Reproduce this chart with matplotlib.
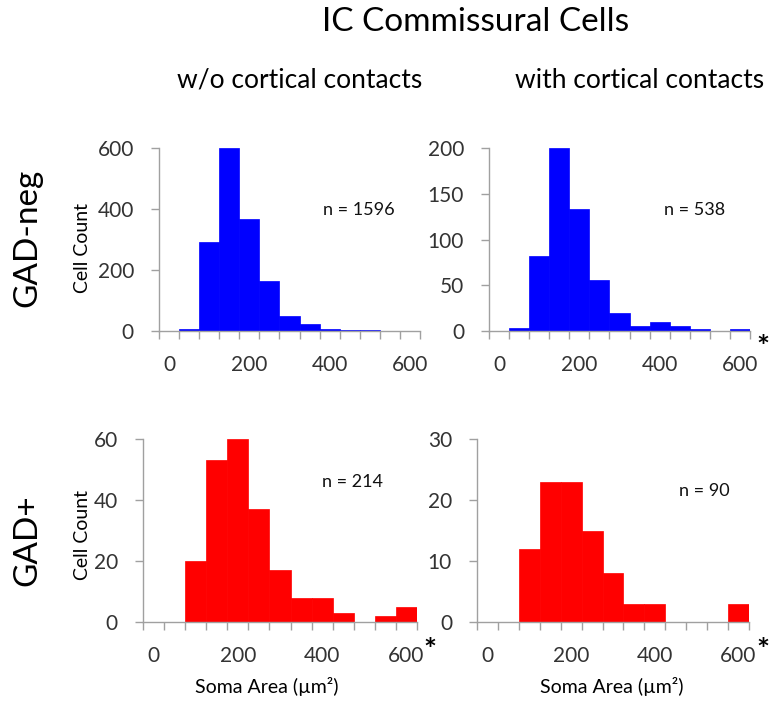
import numpy as np
import matplotlib
matplotlib.use("Agg")
import matplotlib.pyplot as plt

plt.rcParams['font.family'] = ['Lato', 'DejaVu Sans']

# bin labels (soma area, um^2), bins of 50
bins = [0, 50, 100, 150, 200, 250, 300, 350, 400, 450, 500, 550, 600]

# cell counts per bin
neg_wo = [0, 6, 291, 600, 367, 164, 49, 24, 5, 3, 3, 0, 0]
neg_with = [0, 3, 82, 200, 133, 56, 20, 6, 10, 6, 2, 0, 2]
pos_wo = [0, 0, 20, 53, 60, 37, 17, 8, 8, 3, 0, 2, 5]
pos_with = [0, 0, 12, 23, 23, 15, 8, 3, 3, 0, 0, 0, 3]

n_labels = ["n = 1596", "n = 538", "n = 214", "n = 90"]
y_max = [600, 200, 60, 30]
y_step = [200, 50, 20, 10]

W, H = 770, 705
fig = plt.figure(figsize=(W / 100, H / 100), dpi=100)


def px(x0, y0, x1, y1):
    # pixel box (left, top, right, bottom) -> figure fraction
    return [x0 / W, 1 - y1 / H, (x1 - x0) / W, (y1 - y0) / H]


boxes = [(159, 148, 420, 331), (489, 148, 750, 331),
         (143, 439, 417, 622), (477, 439, 749, 622)]
series = [neg_wo, neg_with, pos_wo, pos_with]
colors = ["#0000ff", "#0000ff", "#ff0000", "#ff0000"]
n_pos = [(359, 210), (695, 210), (353, 482), (704, 491)]

axcol = "#a0a0a0"
for i in range(4):
    ax = fig.add_axes(px(*boxes[i]))
    x = np.arange(len(bins))
    ax.bar(x, series[i], width=1.0, color=colors[i], edgecolor=colors[i], linewidth=0.5)
    ax.set_xlim(-0.5, len(bins) - 0.5)
    ax.set_ylim(0, y_max[i])
    for s in ["top", "right"]:
        ax.spines[s].set_visible(False)
    for s in ["left", "bottom"]:
        ax.spines[s].set_color(axcol)
        ax.spines[s].set_linewidth(1.0)
    ax.set_yticks(np.arange(0, y_max[i] + 1, y_step[i]))
    ax.set_xticks(x[::4])
    ax.set_xticklabels([str(b) for b in bins[::4]])
    ax.set_xticks(np.arange(-0.5, len(bins)), minor=True)
    ax.tick_params(axis="x", which="major", length=0, pad=17, labelsize=15, labelcolor="#333333")
    ax.tick_params(axis="x", which="minor", length=6, width=1, color=axcol, direction="out")
    ax.tick_params(axis="y", length=6, width=1, color=axcol, pad=12, labelsize=15, labelcolor="#333333")
    fig.text(n_pos[i][0] / W, 1 - n_pos[i][1] / H, n_labels[i], fontsize=13,
             ha="center", va="center", color="#111111")

# asterisks after the 600 bin
for (ax_, ay_) in [(763, 348), (430, 651), (763, 651)]:
    fig.text(ax_ / W, 1 - ay_ / H, "*", fontsize=22, fontweight="bold", ha="center", va="center")

fig.text(476 / W, 1 - 22 / H, "IC Commissural Cells", fontsize=24, ha="center", va="center")
fig.text(300 / W, 1 - 80 / H, "w/o cortical contacts", fontsize=19, ha="center", va="center")
fig.text(640 / W, 1 - 80 / H, "with cortical contacts", fontsize=19, ha="center", va="center")
fig.text(27 / W, 1 - 238 / H, "GAD-neg", fontsize=24, rotation=90, ha="center", va="center")
fig.text(27 / W, 1 - 540 / H, "GAD+", fontsize=24, rotation=90, ha="center", va="center")
for cy in [248, 535]:
    fig.text(82 / W, 1 - cy / H, "Cell Count", fontsize=14, rotation=90, ha="center", va="center")
for cx in [267, 612]:
    fig.text(cx / W, 1 - 687 / H, "Soma Area (µm²)", fontsize=14, ha="center", va="center")

fig.savefig("out.png", dpi=100)
